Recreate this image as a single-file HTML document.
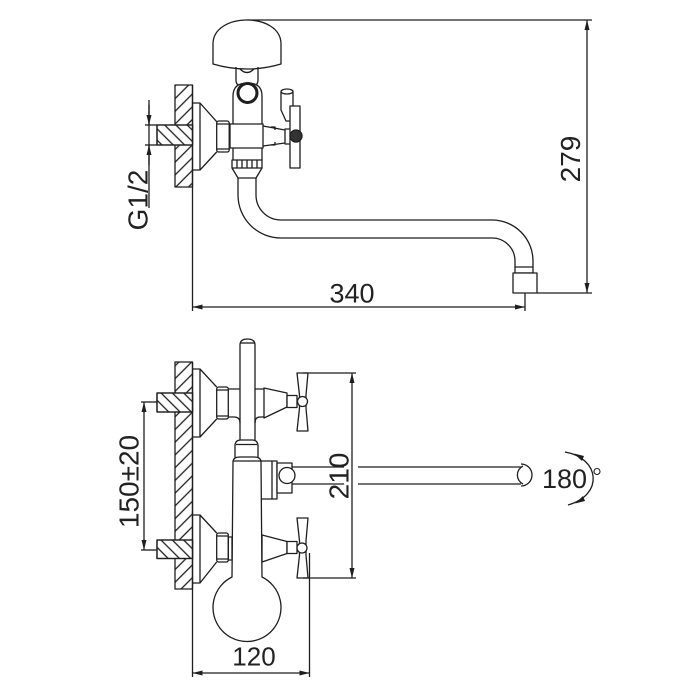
<!DOCTYPE html>
<html><head><meta charset="utf-8"><style>
html,body{margin:0;padding:0;background:#fff;}
svg{display:block;}
text{font-family:"Liberation Sans",Arial,sans-serif;fill:#222;stroke:none;}
</style></head><body>
<svg width="700" height="700" viewBox="0 0 700 700" xmlns="http://www.w3.org/2000/svg">
<defs>
<pattern id="hw" patternUnits="userSpaceOnUse" width="9" height="9" patternTransform="rotate(45)"><line x1="4.5" y1="0" x2="4.5" y2="9" stroke="#1e1e1e" stroke-width="1.3"/></pattern>
<pattern id="hp" patternUnits="userSpaceOnUse" width="8" height="8" patternTransform="rotate(-45)"><line x1="4" y1="0" x2="4" y2="8" stroke="#1e1e1e" stroke-width="1.3"/></pattern>
<marker id="a" viewBox="0 0 10 5" refX="10" refY="2.5" markerWidth="10" markerHeight="5" markerUnits="userSpaceOnUse" orient="auto-start-reverse"><path d="M0,0 L10,2.5 L0,5 Z" fill="#1e1e1e" stroke="none"/></marker>
</defs>
<g fill="none" stroke="#1e1e1e" stroke-width="1.3" stroke-linejoin="round">

<!-- ================= TOP VIEW ================= -->
<line x1="247" y1="20" x2="592" y2="20"/>
<line x1="587" y1="20" x2="587" y2="293" marker-start="url(#a)" marker-end="url(#a)"/>
<line x1="537" y1="293" x2="592" y2="293"/>

<!-- wall -->
<rect x="175" y="85" width="17.5" height="102" fill="url(#hw)"/>
<line x1="192.5" y1="85" x2="192.5" y2="311"/>
<rect x="157" y="125" width="35.5" height="20" fill="#fff"/>
<rect x="157" y="125" width="35.5" height="20" fill="url(#hp)"/>

<!-- G1/2 dim -->
<line x1="149" y1="100" x2="149" y2="208"/>
<line x1="149" y1="105" x2="149" y2="125" marker-end="url(#a)"/>
<line x1="149" y1="165" x2="149" y2="145" marker-end="url(#a)"/>
<line x1="145" y1="125" x2="157" y2="125"/>
<line x1="145" y1="145" x2="157" y2="145"/>

<!-- flange + nut -->
<path d="M192.5,103 H200 L216.7,121.7 M192.5,170 H200 L216.7,152 M200,103 V170"/>
<rect x="216.7" y="121" width="12.5" height="31" rx="2" fill="#fff"/>
<path d="M217,124 H229 M217,149 H229"/>

<!-- cap -->
<path d="M213,64 L213,44 C213,28 230,20 247,20 C264,20 281,28 281,44 L281,64 Q247,74 213,64 Z" fill="#fff"/>
<path d="M236,67 L236,80 Q236,86 242,86 L252,86 Q258,86 258,80 L258,67"/>
<path d="M240,69 Q247,76 254,69"/>
<!-- column -->
<path d="M233,124 L233,96 Q233,83 247.5,83 Q262,83 262,96 L262,124" fill="#fff"/>
<circle cx="247.5" cy="93" r="9.5" stroke-width="3"/>
<!-- body -->
<rect x="230" y="124" width="33" height="24" fill="#fff"/>
<path d="M233,148 V160 M262,148 V160"/>
<rect x="232" y="160" width="30" height="8" fill="#fff"/>
<path d="M237,160 V168 M242,160 V168 M247,160 V168 M252,160 V168 M257,160 V168"/>
<path d="M232,168 L238,178 M262,168 L256,178 M238,178 H256"/>
<!-- spout -->
<path d="M238,178 V195 A43,43 0 0 0 281,238 H492 A23,23 0 0 1 515,261 V267"/>
<path d="M256,178 V195 A25,25 0 0 0 281,220 H492 A41,41 0 0 1 533,261 V267"/>
<rect x="515" y="267" width="18" height="6"/>
<rect x="513" y="273" width="24" height="20" fill="#fff"/>

<!-- handle -->
<path d="M263,126 L285,130 M263,146 L285,143"/>
<path d="M271,127 h4 v3 M271,145 h4 v-3"/>
<path d="M281,92 L281,110 L286,121 L290,121 L293,106 L293,92" fill="#fff"/>
<ellipse cx="287" cy="91.5" rx="6" ry="2.5" fill="#fff"/>
<rect x="285" y="129" width="6" height="15" fill="#fff"/>
<rect x="290" y="106" width="10" height="62" fill="#fff"/>
<circle cx="296" cy="136" r="6" fill="#333"/>

<!-- 340 dim -->
<line x1="192.5" y1="307" x2="525" y2="307" marker-start="url(#a)" marker-end="url(#a)"/>
<line x1="525" y1="293" x2="525" y2="311"/>

<!-- ================= FRONT VIEW ================= -->
<rect x="175" y="362" width="17.5" height="227" fill="url(#hw)"/>
<line x1="192.5" y1="362" x2="192.5" y2="677"/>
<rect x="157" y="393" width="35.5" height="19" fill="#fff"/>
<rect x="157" y="393" width="35.5" height="19" fill="url(#hp)"/>
<rect x="157" y="540" width="35.5" height="18.5" fill="#fff"/>
<rect x="157" y="540" width="35.5" height="18.5" fill="url(#hp)"/>

<!-- 150±20 dim -->
<line x1="144" y1="402" x2="144" y2="550" marker-start="url(#a)" marker-end="url(#a)"/>
<line x1="141" y1="402" x2="157" y2="402"/>
<line x1="141" y1="550" x2="157" y2="550"/>

<!-- upper flange/nut -->
<path d="M192.5,369 H200 L216.7,387 M192.5,437 H200 L216.7,419 M200,369 V437"/>
<rect x="216.7" y="387" width="11.6" height="32" rx="2" fill="#fff"/>
<path d="M217,390 H228 M217,416 H228"/>
<path d="M228.3,389 H240 M228.3,417 H234 Q240,417 240,423"/>
<!-- tall pipe -->
<path d="M240,440 L240,345 Q240,339 247.5,339 Q255,339 255,345 L255,440"/>
<path d="M240.5,343 H254.5"/>
<path d="M255,389 H264 M264,417 H260 Q255,417 255,423"/>
<!-- upper handle -->
<polygon points="264,388 287,393 287,407 264,418" fill="#fff"/>
<rect x="287" y="395.5" width="10" height="12" fill="#fff"/>
<polygon points="297,373 308,373 306,395 306,408 308,431 297,431 299.5,408 299.5,395" fill="#fff"/>
<circle cx="302.5" cy="401.5" r="5" fill="#fff"/>

<!-- collar + body -->
<path d="M235,458 L235,446 Q235,440 241,440 L252,440 Q258,440 258,446 L258,458" fill="#fff"/>
<path d="M236,444.5 H257"/>
<path d="M233,462 L232,577 A34,34 0 1 0 262,577 L261,462 Q261,457 254,457 L240,457 Q233,457 233,462 Z" fill="#fff"/>
<path d="M233.5,461 H260.5"/>
<!-- branch -->
<path d="M261,461 H272 M261,499 H272"/>
<rect x="272" y="461" width="5" height="38" fill="#fff"/>
<rect x="277" y="463" width="15" height="30" fill="#fff"/>
<circle cx="287" cy="475.5" r="8" fill="#fff"/>
<path d="M292,467 H344 M292,484 H344"/>
<!-- spout front -->
<path d="M358,467 H521 M358,484 H521"/>
<path d="M521,464 A11,11 0 0 1 521,486"/>
<path d="M523,466 A10,10 0 0 0 523,484"/>

<!-- lower flange/nut -->
<path d="M192.5,515 H200 L216.7,533 M192.5,583 H200 L216.7,562 M200,515 V583"/>
<rect x="216.7" y="533" width="11.6" height="29" rx="2" fill="#fff"/>
<path d="M217,536 H228 M217,559 H228"/>
<rect x="228.3" y="537" width="3.7" height="23"/>
<!-- lower handle -->
<polygon points="262,535 287,541.5 287,553.5 262,562" fill="#fff"/>
<rect x="287" y="541.5" width="10" height="12" fill="#fff"/>
<polygon points="297,518 308,518 306,541 306,555 308,578 297,578 299.5,555 299.5,541" fill="#fff"/>
<circle cx="302" cy="548" r="5" fill="#fff"/>

<!-- 210 dim -->
<line x1="303" y1="373" x2="356" y2="373"/>
<line x1="303" y1="578" x2="356" y2="578"/>
<line x1="352" y1="373" x2="352" y2="578" marker-start="url(#a)" marker-end="url(#a)"/>

<!-- 120 dim -->
<line x1="309.5" y1="553" x2="309.5" y2="677"/>
<line x1="192.5" y1="673" x2="309.5" y2="673" marker-start="url(#a)" marker-end="url(#a)"/>

<!-- 180 rotation symbol -->
<path d="M565,452 C600,458 604,495 568,505"/>
<polygon points="574,453.5 584,456 582,461" fill="#1e1e1e" stroke="none"/>
<polygon points="575,503.5 583,496 585,501" fill="#1e1e1e" stroke="none"/>
<circle cx="597" cy="471.5" r="3" stroke-width="1.1"/>
</g>

<!-- texts -->
<text transform="translate(580,159) rotate(-90)" text-anchor="middle" font-size="28">279</text>
<text transform="translate(147.5,200) rotate(-90)" text-anchor="middle" font-size="28">G1/2</text>
<text x="352" y="302.5" text-anchor="middle" font-size="27">340</text>
<text transform="translate(138.3,481.5) rotate(-90)" text-anchor="middle" font-size="28">150±20</text>
<text transform="translate(348.3,476) rotate(-90)" text-anchor="middle" font-size="28">210</text>
<text x="542" y="488" font-size="27">180</text>
<text x="254" y="665.5" text-anchor="middle" font-size="26">120</text>
</svg>
</body></html>
